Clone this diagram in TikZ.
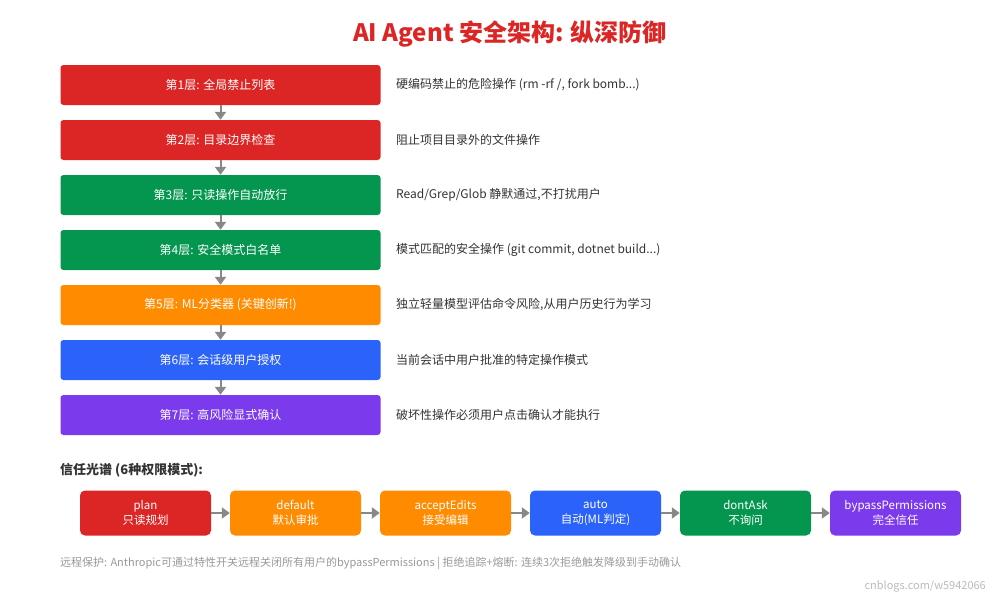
\documentclass[tikz,border=0pt]{standalone}
\usepackage{fontspec}
\setmainfont{Noto Sans CJK SC}
\usetikzlibrary{arrows.meta}
\definecolor{cred}{HTML}{DC2626}
\definecolor{cgreen}{HTML}{04964F}
\definecolor{corange}{HTML}{FF8C00}
\definecolor{cblue}{HTML}{2B63FA}
\definecolor{cpurple}{HTML}{7C3AED}
\definecolor{cdesc}{HTML}{333333}
\definecolor{carrow}{HTML}{888888}
\definecolor{cfoot}{HTML}{999999}
\definecolor{cwm}{HTML}{BBBBBB}
\begin{document}
\begin{tikzpicture}[x=1pt,y=-1pt,
  layer/.style={fill=#1, draw=none, rounded corners=3pt, minimum width=320pt, minimum height=40pt, inner sep=0pt, text=white, font=\fontsize{12}{14}\selectfont},
  desc/.style={anchor=west, inner sep=0pt, text=cdesc, font=\fontsize{12}{14}\selectfont},
  modebox/.style={fill=#1, draw=none, rounded corners=5pt, minimum width=131pt, minimum height=45pt, inner sep=0pt, text=white, align=center, font=\fontsize{11.5}{15.5}\selectfont},
  arr/.style={draw=carrow, line width=2pt, -{Triangle[width=11pt,length=8pt]}}]
\useasboundingbox (0,0) rectangle (1000,600);
\fill[white] (0,0) rectangle (1000,600);
\node[text=cred, font=\fontsize{24}{28}\selectfont\bfseries, inner sep=0pt] (title) at (510,34) {AI Agent 安全架构: 纵深防御};
% layers
\node[layer=cred] (l1) at (220.5,85) {第1层: 全局禁止列表};
\node[layer=cred] (l2) at (220.5,140) {第2层: 目录边界检查};
\node[layer=cgreen] (l3) at (220.5,195) {第3层: 只读操作自动放行};
\node[layer=cgreen] (l4) at (220.5,250) {第4层: 安全模式白名单};
\node[layer=corange] (l5) at (220.5,305) {第5层: ML分类器 (关键创新!)};
\node[layer=cblue] (l6) at (220.5,360) {第6层: 会话级用户授权};
\node[layer=cpurple] (l7) at (220.5,415) {第7层: 高风险显式确认};
\foreach \a/\b in {l1/l2,l2/l3,l3/l4,l4/l5,l5/l6,l6/l7}
  \draw[arr] (\a.south) -- (\b.north);
% descriptions
\node[desc] (d1) at (396,85) {硬编码禁止的危险操作 (rm -rf /, fork bomb...)};
\node[desc] (d2) at (396,140) {阻止项目目录外的文件操作};
\node[desc] (d3) at (396,195) {Read/Grep/Glob 静默通过,不打扰用户};
\node[desc] (d4) at (396,250) {模式匹配的安全操作 (git commit, dotnet build...)};
\node[desc] (d5) at (396,305) {独立轻量模型评估命令风险,从用户历史行为学习};
\node[desc] (d6) at (396,360) {当前会话中用户批准的特定操作模式};
\node[desc] (d7) at (396,415) {破坏性操作必须用户点击确认才能执行};
% trust spectrum
\node[anchor=west, inner sep=0pt, text=cdesc, font=\fontsize{13}{15}\selectfont\bfseries] (ttl) at (60,470) {信任光谱 (6种权限模式):};
\node[modebox=cred] (m1) at (145.5,513) {plan\\只读规划};
\node[modebox=corange] (m2) at (295.5,513) {default\\默认审批};
\node[modebox=corange] (m3) at (445.5,513) {acceptEdits\\接受编辑};
\node[modebox=cblue] (m4) at (595.5,513) {auto\\自动(ML判定)};
\node[modebox=cgreen] (m5) at (745.5,513) {dontAsk\\不询问};
\node[modebox=cpurple] (m6) at (895.5,513) {bypassPermissions\\完全信任};
\foreach \a/\b in {m1/m2,m2/m3,m3/m4,m4/m5,m5/m6}
  \draw[arr] (\a.east) -- (\b.west);
% footer
\node[anchor=west, inner sep=0pt, text=cfoot, font=\fontsize{11}{13}\selectfont] (foot) at (60,563) {远程保护: Anthropic可通过特性开关远程关闭所有用户的bypassPermissions | 拒绝追踪+熔断: 连续3次拒绝触发降级到手动确认};
\node[anchor=east, inner sep=0pt, text=cwm, font=\fontsize{11}{13}\selectfont] (wm) at (986,586) {cnblogs.com/w5942066};
\end{tikzpicture}
\end{document}
